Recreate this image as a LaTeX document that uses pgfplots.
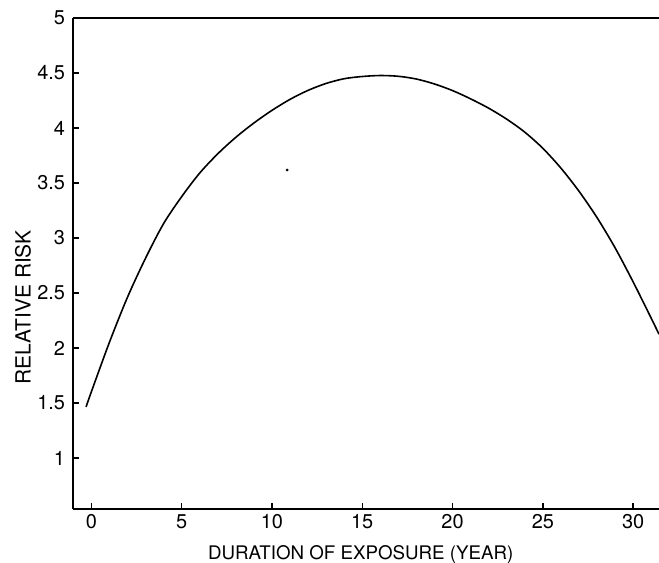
\documentclass[border=0pt]{standalone}
\usepackage{pgfplots}
\pgfplotsset{compat=1.18}
\usepackage{fontspec}
\setmainfont{TeX Gyre Heros}
\begin{document}
\begin{tikzpicture}
\begin{axis}[
  name=ax,
  scale only axis,
  width=586bp, height=491bp,
  xmin=-1.013, xmax=31.43,
  ymin=0.536, ymax=5,
  axis x line*=bottom,
  axis y line*=left,
  axis line style={line width=1.8bp, black},
  every tick/.style={line width=1.4bp, black},
  major tick length=6bp,
  tick align=inside,
  xtick={0,5,10,15,20,25,30},
  ytick={1,1.5,2,2.5,3,3.5,4,4.5,5},
  /pgf/number format/assume math mode=true,
  yticklabel style={font=\fontsize{20}{23}\selectfont, xshift=-4.5bp},
  xticklabel style={font=\fontsize{20}{23}\selectfont, yshift=-2bp},
  xlabel={DURATION OF EXPOSURE (YEAR)},
  ylabel={RELATIVE RISK},
  xlabel style={font=\fontsize{18.8}{21}\selectfont, at={(axis description cs:0.491,0)}, anchor=base, yshift=-50bp},
  ylabel style={font=\fontsize{21}{24}\selectfont, at={(axis description cs:-0.0853,0.411)}, anchor=center},
  clip=false,
]
\addplot[black, line width=1.6bp, smooth, no marks] coordinates {
  (-0.29,1.464) (0,1.60) (1,2.05) (2,2.46) (3,2.815) (4,3.13) (5,3.375)
  (6,3.59) (7,3.765) (8,3.915) (9,4.045) (10,4.16) (11,4.26) (12,4.342)
  (13,4.405) (14,4.448) (15,4.468) (16,4.477) (17,4.470) (18,4.445)
  (19,4.400) (20,4.340) (21,4.265) (22,4.180) (23,4.080) (24,3.962)
  (25,3.815) (26,3.635) (27,3.425) (28,3.185) (29,2.910) (30,2.600)
  (31,2.270) (31.43,2.125)
};
\addplot[only marks, mark=*, mark size=1.2bp, black] coordinates {(10.84,3.618)};
\draw[line width=1.8bp, black] (rel axis cs:0,1) -- (rel axis cs:1,1);
\end{axis}
\pgfresetboundingbox
\path ([xshift=-73bp,yshift=-54bp]ax.south west) rectangle ([yshift=18bp]ax.north east);
\end{tikzpicture}
\end{document}
